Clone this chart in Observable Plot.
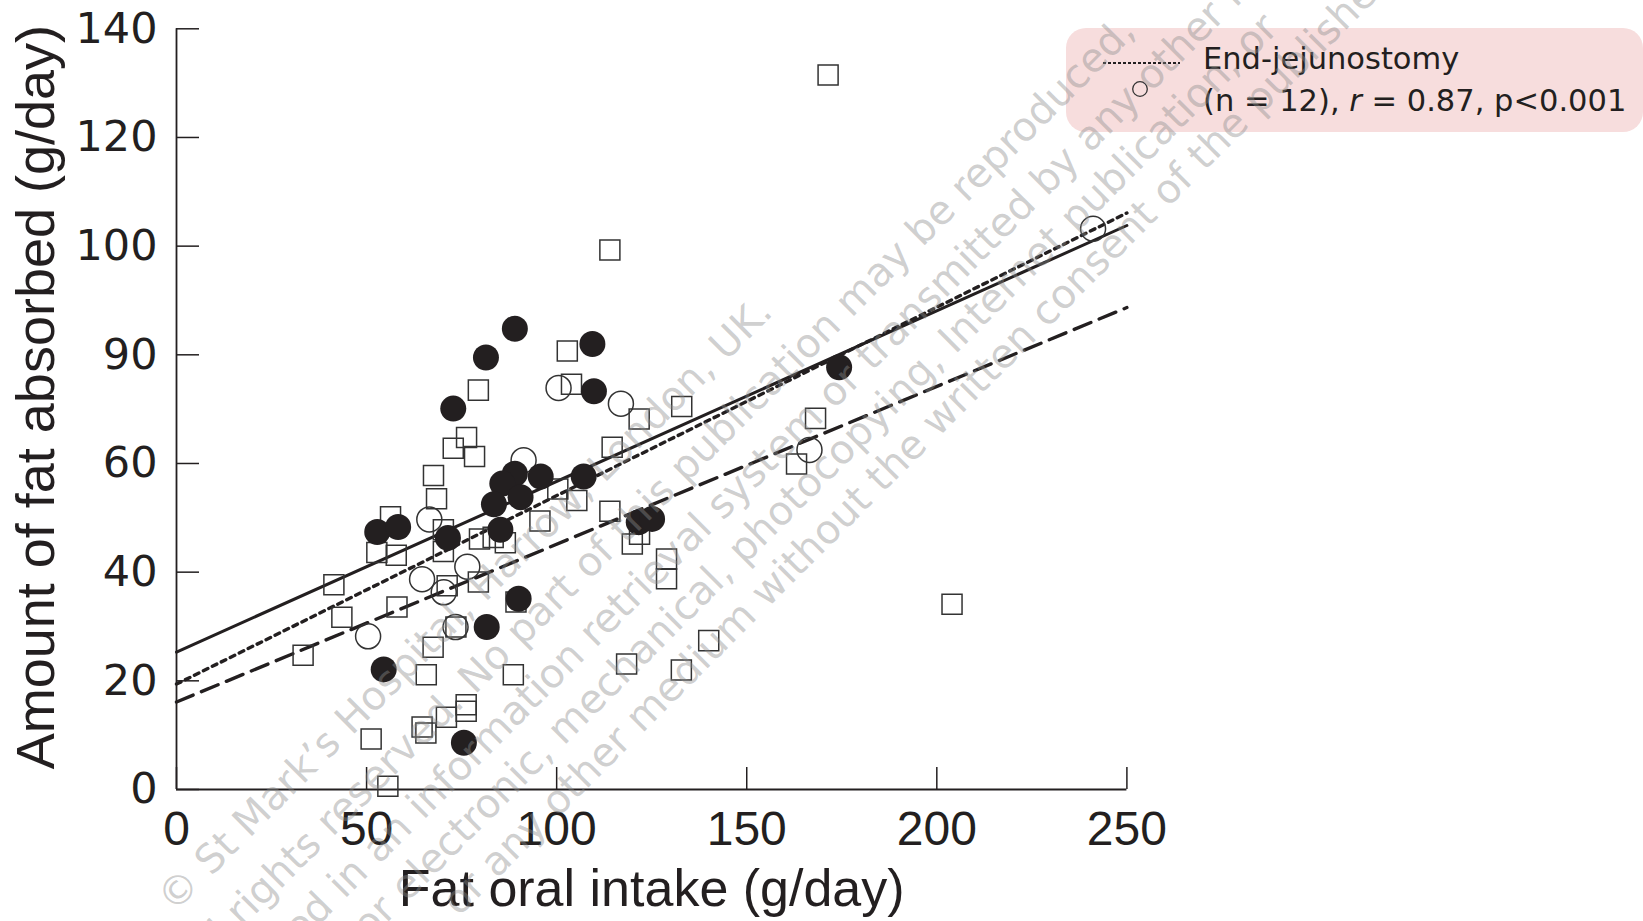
<!DOCTYPE html>
<html>
<head>
<meta charset="utf-8">
<script src="https://cdn.jsdelivr.net/npm/d3@7"></script>
<script src="https://cdn.jsdelivr.net/npm/@observablehq/plot@0.6"></script>
<style>
html,body{margin:0;padding:0;background:#fff;}
#wrap{position:relative;width:1643px;height:921px;overflow:hidden;background:#fff;}
#wrap svg.overlay{position:absolute;left:0;top:0;pointer-events:none;}
</style>
</head>
<body>
<div id="wrap"></div>
<script>
// ---------------- data ----------------
const xTicks = [0, 50, 100, 150, 200, 250];
const xTickLabels = ["0", "50", "100", "150", "200", "250"];
const yTicks = [0, 20, 40, 60, 80, 100, 120, 140];
const yTickLabels = ["0", "20", "40", "60", "90", "100", "120", "140"];
const xTitle = "Fat oral intake (g/day)";
const yTitle = "Amount of fat absorbed (g/day)";

// filled circles
const filledX = [89.0, 81.4, 109.4, 72.8, 109.8, 89.0, 95.8, 107.1, 85.7, 90.5, 83.5, 52.8, 58.3, 71.4, 85.2, 121.6, 125.1, 90.0, 81.6, 54.5, 75.6, 174.3];
const filledY = [84.8, 79.5, 82.0, 70.1, 73.3, 58.1, 57.6, 57.6, 56.3, 53.8, 52.5, 47.4, 48.3, 46.3, 47.8, 49.2, 49.8, 35.1, 29.9, 22.1, 8.6, 77.7];
// open circles (End-jejunostomy)
const openX = [100.5, 116.9, 91.3, 66.5, 76.5, 64.6, 70.3, 73.4, 50.4, 166.5, 241.1];
const openY = [73.9, 71.0, 60.6, 49.7, 41.0, 38.7, 36.3, 29.9, 28.2, 62.5, 103.2];
// open squares
const squareX = [171.4, 114.0, 204.0, 102.8, 103.9, 79.4, 121.7, 132.9, 76.3, 72.8, 78.4, 114.6, 67.6, 68.4, 56.3, 52.7, 57.8, 70.2, 70.2, 79.7, 83.3, 86.5, 95.6, 100.3, 105.3, 114.0, 119.9, 121.8, 128.9, 128.9, 41.4, 43.5, 33.3, 58.0, 71.2, 79.4, 89.3, 73.5, 67.5, 65.7, 88.6, 118.4, 132.8, 140.0, 76.2, 76.2, 71.0, 64.6, 65.6, 51.2, 55.6, 163.1, 168.1];
const squareY = [131.5, 99.3, 34.1, 80.7, 74.6, 73.5, 68.2, 70.5, 64.8, 62.8, 61.3, 63.0, 57.8, 53.5, 50.2, 43.6, 43.1, 47.8, 43.8, 46.1, 46.4, 45.4, 49.4, 55.3, 53.2, 51.2, 45.2, 47.0, 42.4, 38.8, 37.7, 31.7, 24.7, 33.6, 37.5, 38.2, 34.5, 29.9, 26.2, 21.1, 21.1, 23.1, 22.0, 27.4, 15.6, 14.4, 13.3, 11.5, 10.4, 9.3, 0.6, 59.9, 68.3];

// regression lines (value at x = 0 and at x = 250)
const fitNames = ["solid", "End-jejunostomy", "dashed"];
const fitX = [0, 250];
const fitStartY = [25.3, 19.4, 16.1];
const fitEndY = [103.8, 106.1, 88.7];

// legend text
const legendTitle = "End-jejunostomy";
const legendStat = ["(n = 12), ", "r", " = 0.87, p<0.001"];

// watermark text
const wmText = [
  "© St Mark’s Hospital, Harrow, London, UK.",
  "All rights reserved. No part of this publication may be reproduced,",
  "stored in an information retrieval system or transmitted by any other means,",
  "or electronic, mechanical, photocopying, Internet publication, or",
  "or any other medium without the written consent of the publisher"
];
const wmAnchorWord = ["©", "publication", "transmitted", "Internet", "written"];
const wmAnchorPos = [[174, 914], [686, 484], [872, 372], [955, 355], [938, 438]];

// ---------------- chart ----------------
const ink = "#231f20";
const pts = (xs, ys) => xs.map((x, i) => ({x, y: ys[i]}));
const filled = pts(filledX, filledY);
const open = pts(openX, openY);
const squares = pts(squareX, squareY);
const fits = fitNames.map((name, i) => [
  {name, x: fitX[0], y: fitStartY[i]},
  {name, x: fitX[1], y: fitEndY[i]}
]);

const chart = Plot.plot({
  width: 1643,
  height: 921,
  marginLeft: 176,
  marginRight: 516.6,
  marginTop: 28.3,
  marginBottom: 132,
  style: {background: "#fff", color: ink, fontFamily: "'Liberation Sans', Arial, sans-serif"},
  x: {domain: [0, 250]},
  y: {domain: [0, 140]},
  marks: [
    Plot.ruleY([0], {stroke: ink, strokeWidth: 1.8}),
    Plot.ruleX([0], {stroke: ink, strokeWidth: 1.8}),
    Plot.axisX(xTicks, {
      tickSize: -22, tickPadding: 43, strokeWidth: 1.5,
      tickFormat: d => xTickLabels[xTicks.indexOf(d)],
      fontSize: 48, fontFamily: "'Liberation Sans', Arial, sans-serif", label: null
    }),
    Plot.axisY(yTicks, {
      tickSize: -23, tickPadding: 42, strokeWidth: 1.5,
      tickFormat: d => yTickLabels[yTicks.indexOf(d)],
      fontSize: 43, fontFamily: "'DejaVu Sans', sans-serif", label: null
    }),
    Plot.line(fits[0], {x: "x", y: "y", stroke: ink, strokeWidth: 3}),
    Plot.line(fits[1], {x: "x", y: "y", stroke: ink, strokeWidth: 3.4, strokeDasharray: "5,5"}),
    Plot.line(fits[2], {x: "x", y: "y", stroke: ink, strokeWidth: 3.4, strokeDasharray: "18,9"}),
    Plot.dot(squares, {x: "x", y: "y", symbol: "square", r: 11.3, fill: "none", stroke: "#333", strokeWidth: 1.5}),
    Plot.dot(open, {x: "x", y: "y", r: 12.5, fill: "none", stroke: "#333", strokeWidth: 1.5}),
    Plot.dot(filled, {x: "x", y: "y", r: 13, fill: ink, stroke: "none"}),
    Plot.text([yTitle], {frameAnchor: "left", textAnchor: "middle", lineAnchor: "middle", rotate: -90, dx: -140, dy: -12, fontSize: 54, fill: ink}),
    Plot.text([xTitle], {frameAnchor: "bottom", textAnchor: "middle", lineAnchor: "middle", dy: 100, fontSize: 52, fill: ink})
  ]
});

const wrap = document.getElementById("wrap");
wrap.appendChild(chart);

// ---------------- legend ----------------
const lg = d3.select(wrap).append("svg")
  .attr("class", "overlay").attr("width", 1643).attr("height", 921);
lg.append("rect").attr("x", 1066).attr("y", 28).attr("width", 577).attr("height", 104)
  .attr("rx", 20).attr("fill", "#f7dddd");
lg.append("line").attr("x1", 1103).attr("x2", 1180).attr("y1", 63).attr("y2", 63)
  .attr("stroke", ink).attr("stroke-width", 2).attr("stroke-dasharray", "3,2");
lg.append("circle").attr("cx", 1140).attr("cy", 89).attr("r", 7.3)
  .attr("fill", "none").attr("stroke", "#333").attr("stroke-width", 1.3);
lg.append("text").attr("x", 1203).attr("y", 69)
  .attr("font-family", "'DejaVu Sans', sans-serif").attr("font-size", 30.5).attr("fill", ink)
  .text(legendTitle);
const t2 = lg.append("text").attr("x", 1203).attr("y", 111)
  .attr("font-family", "'DejaVu Sans', sans-serif").attr("font-size", 30.5).attr("fill", ink);
legendStat.forEach((s, i) => {
  t2.append("tspan").attr("font-style", i === 1 ? "italic" : "normal").text(s);
});

// ---------------- watermark ----------------
const wm = d3.select(wrap).append("svg")
  .attr("class", "overlay").attr("width", 1643).attr("height", 921);
const a = Math.SQRT1_2;
wmText.forEach((line, i) => {
  const t = wm.append("text")
    .attr("font-family", "'DejaVu Sans', sans-serif").attr("font-size", 40)
    .attr("fill", "#8c8c8c").attr("fill-opacity", 0.42)
    .attr("xml:space", "preserve")
    .text(line);
  const idx = line.indexOf(wmAnchorWord[i]);
  const pre = idx > 0 ? t.node().getSubStringLength(0, idx) : 0;
  const [ax, ay] = wmAnchorPos[i];
  const px = ax - pre * a, py = ay + pre * a;
  t.attr("transform", `translate(${px},${py}) rotate(-45)`);
});
</script>
</body>
</html>
